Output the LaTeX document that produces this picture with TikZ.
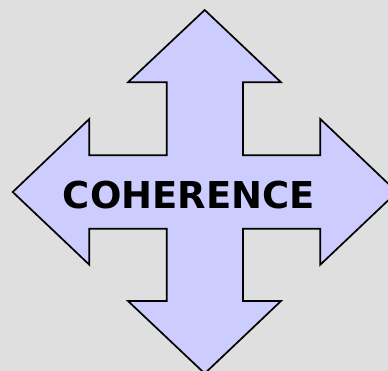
\documentclass[tikz,border=0pt]{standalone}
\usepackage{fontspec}
\setmainfont{DejaVu Sans}
\usepackage{tikz}
\usepackage{tkz-euclide}
\definecolor{backgray}{HTML}{DFDFDF}
\definecolor{lavender}{HTML}{CCCCFF}

\begin{document}
\begin{tikzpicture}[x=1pt,y=-1pt]
  \fill[backgray] (0,0) rectangle (388,371);
  \useasboundingbox (0,0) rectangle (388,371);
  \clip (0,0) rectangle (388,371);

  \tkzDefPoint(204.7,10){N}
  \tkzDefPoint(397,192){E}
  \tkzDefPoint(204.7,373.5){S}
  \tkzDefPoint(12.7,192){W}

  \draw[line width=1.7pt,line join=miter,fill=lavender]
    (N) -- (281,82.3) -- (243,82.3) -- (243,155.3) -- (320.3,155.3) -- (320.3,119)
    -- (E) -- (320.3,264.7) -- (320.3,228.7) -- (243,228.7) -- (243,301) -- (281,301)
    -- (S) -- (128,301) -- (166.7,301) -- (166.7,228.7) -- (89.3,228.7) -- (89.3,264.7)
    -- (W) -- (89.3,119) -- (89.3,155.3) -- (166.7,155.3) -- (166.7,82.3) -- (128,82.3)
    -- cycle;
  \node[font=\fontsize{37}{40}\selectfont\bfseries,inner sep=0pt,anchor=base]
    (title) at (189,209) {COHERENCE};
\end{tikzpicture}
\end{document}
